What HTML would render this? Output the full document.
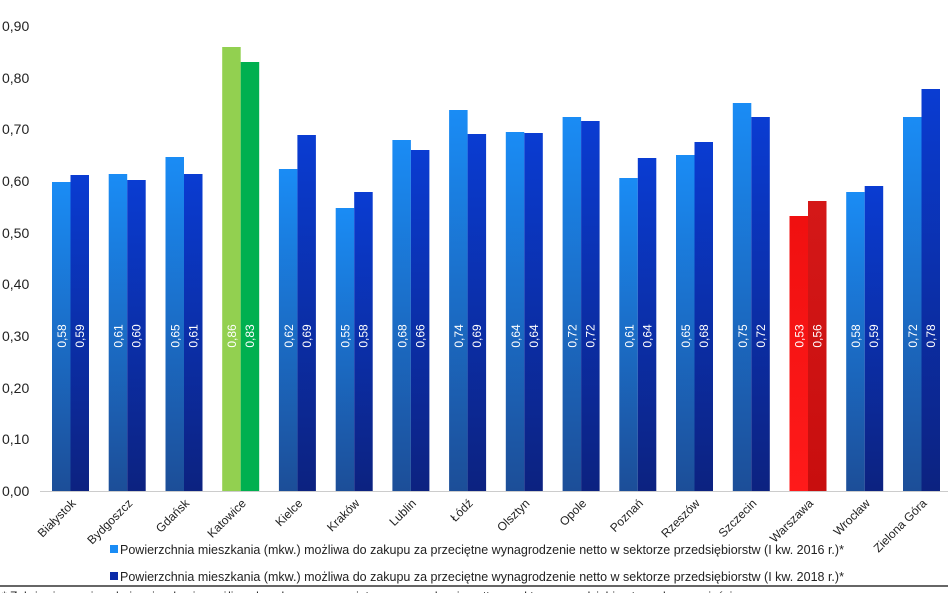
<!DOCTYPE html>
<html><head><meta charset="utf-8"><style>
html,body{margin:0;padding:0;background:#fff;}
svg{display:block;font-family:"Liberation Sans",sans-serif;}
</style></head><body>
<svg width="948" height="593" viewBox="0 0 948 593">
<defs>
<linearGradient id="a" x1="0" y1="0" x2="0" y2="1"><stop offset="0" stop-color="#1a8cf5"/><stop offset="1" stop-color="#1c4e98"/></linearGradient>
<linearGradient id="b" x1="0" y1="0" x2="0" y2="1"><stop offset="0" stop-color="#0a3cd2"/><stop offset="1" stop-color="#0c2280"/></linearGradient>
<linearGradient id="r1" x1="0" y1="0" x2="0" y2="1"><stop offset="0" stop-color="#f01010"/><stop offset="1" stop-color="#ff1a1a"/></linearGradient>
<linearGradient id="r2" x1="0" y1="0" x2="0" y2="1"><stop offset="0" stop-color="#d41818"/><stop offset="1" stop-color="#c80e0e"/></linearGradient>
</defs>
<g font-size="14" fill="#222">
<text x="2" y="31">0,90</text><text x="2" y="83">0,80</text><text x="2" y="134">0,70</text>
<text x="2" y="186">0,60</text><text x="2" y="238">0,50</text><text x="2" y="289">0,40</text>
<text x="2" y="341">0,30</text><text x="2" y="393">0,20</text><text x="2" y="444">0,10</text>
<text x="2" y="496">0,00</text>
</g>
<line x1="40" y1="491.5" x2="948" y2="491.5" stroke="#ccc" stroke-width="1"/>

<g font-size="12">
<g transform="translate(70.5,0)"><rect x="-18.5" y="182" width="18.5" height="309" fill="url(#a)"/><rect x="0" y="175" width="18.5" height="316" fill="url(#b)"/><text transform="translate(-4.5,336) rotate(-90)" text-anchor="middle" fill="#fff">0,58</text><text transform="translate(13.5,336) rotate(-90)" text-anchor="middle" fill="#fff">0,59</text><text transform="translate(6,504) rotate(-45)" text-anchor="end" fill="#222">Białystok</text></g>
<g transform="translate(127.2,0)"><rect x="-18.5" y="174" width="18.5" height="317" fill="url(#a)"/><rect x="0" y="180" width="18.5" height="311" fill="url(#b)"/><text transform="translate(-4.5,336) rotate(-90)" text-anchor="middle" fill="#fff">0,61</text><text transform="translate(13.5,336) rotate(-90)" text-anchor="middle" fill="#fff">0,60</text><text transform="translate(6,504) rotate(-45)" text-anchor="end" fill="#222">Bydgoszcz</text></g>
<g transform="translate(184,0)"><rect x="-18.5" y="157" width="18.5" height="334" fill="url(#a)"/><rect x="0" y="174" width="18.5" height="317" fill="url(#b)"/><text transform="translate(-4.5,336) rotate(-90)" text-anchor="middle" fill="#fff">0,65</text><text transform="translate(13.5,336) rotate(-90)" text-anchor="middle" fill="#fff">0,61</text><text transform="translate(6,504) rotate(-45)" text-anchor="end" fill="#222">Gdańsk</text></g>
<g transform="translate(240.7,0)"><rect x="-18.5" y="47" width="18.5" height="444" fill="#92d050"/><rect x="0" y="62" width="18.5" height="429" fill="#00b050"/><text transform="translate(-4.5,336) rotate(-90)" text-anchor="middle" fill="#fff">0,86</text><text transform="translate(13.5,336) rotate(-90)" text-anchor="middle" fill="#fff">0,83</text><text transform="translate(6,504) rotate(-45)" text-anchor="end" fill="#222">Katowice</text></g>
<g transform="translate(297.4,0)"><rect x="-18.5" y="169" width="18.5" height="322" fill="url(#a)"/><rect x="0" y="135" width="18.5" height="356" fill="url(#b)"/><text transform="translate(-4.5,336) rotate(-90)" text-anchor="middle" fill="#fff">0,62</text><text transform="translate(13.5,336) rotate(-90)" text-anchor="middle" fill="#fff">0,69</text><text transform="translate(6,504) rotate(-45)" text-anchor="end" fill="#222">Kielce</text></g>
<g transform="translate(354.2,0)"><rect x="-18.5" y="208" width="18.5" height="283" fill="url(#a)"/><rect x="0" y="192" width="18.5" height="299" fill="url(#b)"/><text transform="translate(-4.5,336) rotate(-90)" text-anchor="middle" fill="#fff">0,55</text><text transform="translate(13.5,336) rotate(-90)" text-anchor="middle" fill="#fff">0,58</text><text transform="translate(6,504) rotate(-45)" text-anchor="end" fill="#222">Kraków</text></g>
<g transform="translate(410.9,0)"><rect x="-18.5" y="140" width="18.5" height="351" fill="url(#a)"/><rect x="0" y="150" width="18.5" height="341" fill="url(#b)"/><text transform="translate(-4.5,336) rotate(-90)" text-anchor="middle" fill="#fff">0,68</text><text transform="translate(13.5,336) rotate(-90)" text-anchor="middle" fill="#fff">0,66</text><text transform="translate(6,504) rotate(-45)" text-anchor="end" fill="#222">Lublin</text></g>
<g transform="translate(467.6,0)"><rect x="-18.5" y="110" width="18.5" height="381" fill="url(#a)"/><rect x="0" y="134" width="18.5" height="357" fill="url(#b)"/><text transform="translate(-4.5,336) rotate(-90)" text-anchor="middle" fill="#fff">0,74</text><text transform="translate(13.5,336) rotate(-90)" text-anchor="middle" fill="#fff">0,69</text><text transform="translate(6,504) rotate(-45)" text-anchor="end" fill="#222">Łódź</text></g>
<g transform="translate(524.3,0)"><rect x="-18.5" y="132" width="18.5" height="359" fill="url(#a)"/><rect x="0" y="133" width="18.5" height="358" fill="url(#b)"/><text transform="translate(-4.5,336) rotate(-90)" text-anchor="middle" fill="#fff">0,64</text><text transform="translate(13.5,336) rotate(-90)" text-anchor="middle" fill="#fff">0,64</text><text transform="translate(6,504) rotate(-45)" text-anchor="end" fill="#222">Olsztyn</text></g>
<g transform="translate(581.1,0)"><rect x="-18.5" y="117" width="18.5" height="374" fill="url(#a)"/><rect x="0" y="121" width="18.5" height="370" fill="url(#b)"/><text transform="translate(-4.5,336) rotate(-90)" text-anchor="middle" fill="#fff">0,72</text><text transform="translate(13.5,336) rotate(-90)" text-anchor="middle" fill="#fff">0,72</text><text transform="translate(6,504) rotate(-45)" text-anchor="end" fill="#222">Opole</text></g>
<g transform="translate(637.8,0)"><rect x="-18.5" y="178" width="18.5" height="313" fill="url(#a)"/><rect x="0" y="158" width="18.5" height="333" fill="url(#b)"/><text transform="translate(-4.5,336) rotate(-90)" text-anchor="middle" fill="#fff">0,61</text><text transform="translate(13.5,336) rotate(-90)" text-anchor="middle" fill="#fff">0,64</text><text transform="translate(6,504) rotate(-45)" text-anchor="end" fill="#222">Poznań</text></g>
<g transform="translate(694.5,0)"><rect x="-18.5" y="155" width="18.5" height="336" fill="url(#a)"/><rect x="0" y="142" width="18.5" height="349" fill="url(#b)"/><text transform="translate(-4.5,336) rotate(-90)" text-anchor="middle" fill="#fff">0,65</text><text transform="translate(13.5,336) rotate(-90)" text-anchor="middle" fill="#fff">0,68</text><text transform="translate(6,504) rotate(-45)" text-anchor="end" fill="#222">Rzeszów</text></g>
<g transform="translate(751.3,0)"><rect x="-18.5" y="103" width="18.5" height="388" fill="url(#a)"/><rect x="0" y="117" width="18.5" height="374" fill="url(#b)"/><text transform="translate(-4.5,336) rotate(-90)" text-anchor="middle" fill="#fff">0,75</text><text transform="translate(13.5,336) rotate(-90)" text-anchor="middle" fill="#fff">0,72</text><text transform="translate(6,504) rotate(-45)" text-anchor="end" fill="#222">Szczecin</text></g>
<g transform="translate(808,0)"><rect x="-18.5" y="216" width="18.5" height="275" fill="url(#r1)"/><rect x="0" y="201" width="18.5" height="290" fill="url(#r2)"/><text transform="translate(-4.5,336) rotate(-90)" text-anchor="middle" fill="#fff">0,53</text><text transform="translate(13.5,336) rotate(-90)" text-anchor="middle" fill="#fff">0,56</text><text transform="translate(6,504) rotate(-45)" text-anchor="end" fill="#222">Warszawa</text></g>
<g transform="translate(864.7,0)"><rect x="-18.5" y="192" width="18.5" height="299" fill="url(#a)"/><rect x="0" y="186" width="18.5" height="305" fill="url(#b)"/><text transform="translate(-4.5,336) rotate(-90)" text-anchor="middle" fill="#fff">0,58</text><text transform="translate(13.5,336) rotate(-90)" text-anchor="middle" fill="#fff">0,59</text><text transform="translate(6,504) rotate(-45)" text-anchor="end" fill="#222">Wrocław</text></g>
<g transform="translate(921.5,0)"><rect x="-18.5" y="117" width="18.5" height="374" fill="url(#a)"/><rect x="0" y="89" width="18.5" height="402" fill="url(#b)"/><text transform="translate(-4.5,336) rotate(-90)" text-anchor="middle" fill="#fff">0,72</text><text transform="translate(13.5,336) rotate(-90)" text-anchor="middle" fill="#fff">0,78</text><text transform="translate(6,504) rotate(-45)" text-anchor="end" fill="#222">Zielona Góra</text></g>
</g>

<g font-size="12.5" fill="#222">
<text x="120" y="554">Powierzchnia mieszkania (mkw.) możliwa do zakupu za przeciętne wynagrodzenie netto w sektorze przedsiębiorstw (I kw. 2016 r.)*</text>
<text x="120" y="581">Powierzchnia mieszkania (mkw.) możliwa do zakupu za przeciętne wynagrodzenie netto w sektorze przedsiębiorstw (I kw. 2018 r.)*</text>
</g>
<rect x="110" y="545" width="8" height="8" fill="#1a8cf5"/>
<rect x="110" y="572" width="8" height="8" fill="#0a2aa8"/>
<rect x="0" y="585" width="948" height="2" fill="#666"/>
<text x="2" y="600" font-size="12" fill="#222">*  Założenia: powierzchnia mieszkania możliwa do zakupu za przeciętne wynagrodzenie netto w sektorze przedsiębiorstw w danym mieście</text>
</svg>
</body></html>
